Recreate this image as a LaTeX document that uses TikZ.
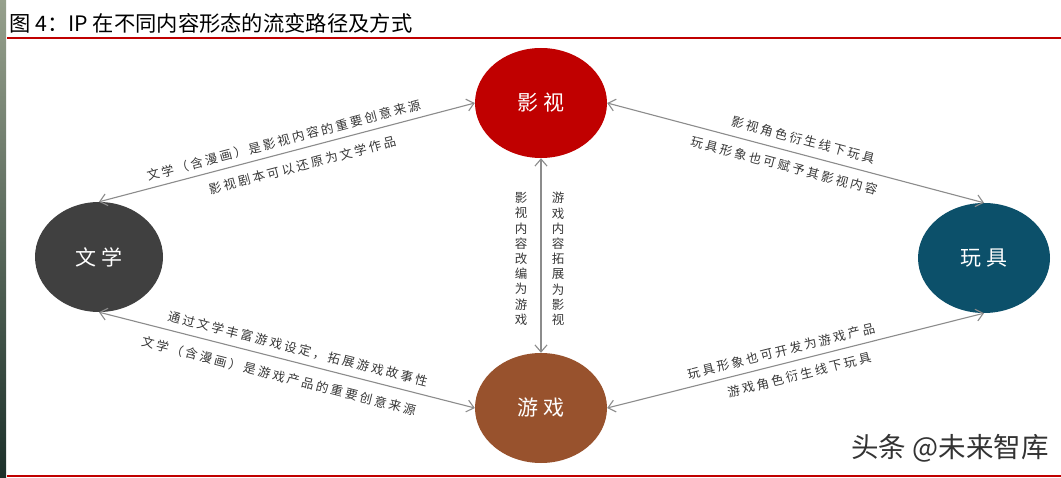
\documentclass[tikz,border=0pt]{standalone}
\usepackage{fontspec}
\newfontfamily\cjk{Noto Sans CJK SC}
\newfontfamily\cjkspaced[LetterSpace=20]{Noto Sans CJK SC}
\usetikzlibrary{shapes.geometric,arrows.meta}
\definecolor{rulered}{RGB}{192,0,0}
\definecolor{yingshired}{RGB}{192,0,0}
\definecolor{wenxuegray}{RGB}{64,64,64}
\definecolor{wanjublue}{RGB}{12,80,106}
\definecolor{youxibrown}{RGB}{152,82,45}
\definecolor{flowgray}{RGB}{140,140,140}
\definecolor{textgray}{RGB}{55,55,55}
\definecolor{stripgreen}{RGB}{28,48,42}
\definecolor{stripgray}{RGB}{150,160,140}
\begin{document}
\begin{tikzpicture}[x=1pt, y=-1pt, >={Straight Barb[length=7pt,width=12pt]},
  medium/.style={ellipse, minimum width=132pt, minimum height=110pt, inner sep=0pt, text=white, font=\cjkspaced\fontsize{21}{21}\selectfont},
  flow/.style={<->, draw=flowgray, line width=1.1pt},
  flowlabel/.style={sloped, text=textgray, font=\cjkspaced\fontsize{12.5}{13}\selectfont, inner sep=0pt},
  vlabel/.style={align=center, text=textgray, font=\cjk\fontsize{12.5}{15.2}\selectfont, inner sep=0pt}]
  \useasboundingbox (0,0) rectangle (1061,478);
  \fill[white] (0,0) rectangle (1061,478);
  \shade[top color=stripgray, bottom color=stripgreen] (0,0) rectangle (6,478);
  % title and rules
  \node[anchor=base west, inner sep=0pt, font=\cjk\fontsize{21.3}{22}\selectfont] (title) at (9,32) {图 4：IP 在不同内容形态的流变路径及方式};
  \draw[rulered, line width=2pt] (7,38) -- (1061,38);
  \draw[rulered, line width=2pt] (7,476) -- (1061,476);
  % the four forms
  \node[medium, fill=yingshired] (yingshi) at (541,103) {影视};
  \node[medium, fill=wenxuegray, minimum width=128pt] (wenxue) at (99,257) {文学};
  \node[medium, fill=wanjublue] (wanju) at (984,258) {玩具};
  \node[medium, fill=youxibrown] (youxi) at (541,408) {游戏};
  % flows
  \draw[flow] (wenxue.north) -- (yingshi.west)
    node[flowlabel, pos=0.5, above=6pt] (wxys) {文学（含漫画）是影视内容的重要创意来源}
    node[flowlabel, pos=0.53, below=10pt] (yswx) {影视剧本可以还原为文学作品};
  \draw[flow] (yingshi.east) -- (wanju.north)
    node[flowlabel, pos=0.51, above=8pt] (yswj) {影视角色衍生线下玩具}
    node[flowlabel, pos=0.48, below=9pt] (wjys) {玩具形象也可赋予其影视内容};
  \draw[flow] (wenxue.south) -- (youxi.west)
    node[flowlabel, pos=0.52, above=7pt] (wxyx) {通过文学丰富游戏设定，拓展游戏故事性}
    node[flowlabel, pos=0.49, below=11pt] (wxyxb) {文学（含漫画）是游戏产品的重要创意来源};
  \draw[flow] (youxi.east) -- (wanju.south)
    node[flowlabel, pos=0.47, above=6.5pt] (wjyx) {玩具形象也可开发为游戏产品}
    node[flowlabel, pos=0.5, below=8.5pt] (yxwj) {游戏角色衍生线下玩具};
  \draw[flow] (yingshi.south) -- (youxi.north);
  \node[vlabel] (ysyx) at (521,259) {影\\视\\内\\容\\改\\编\\为\\游\\戏};
  \node[vlabel] (yxys) at (558,259) {游\\戏\\内\\容\\拓\\展\\为\\影\\视};
  % watermark
  \node[inner sep=0pt, text=black!80, font=\cjk\fontsize{27.5}{28}\selectfont] (mark) at (950,448) {头条 @未来智库};
\end{tikzpicture}
\end{document}
